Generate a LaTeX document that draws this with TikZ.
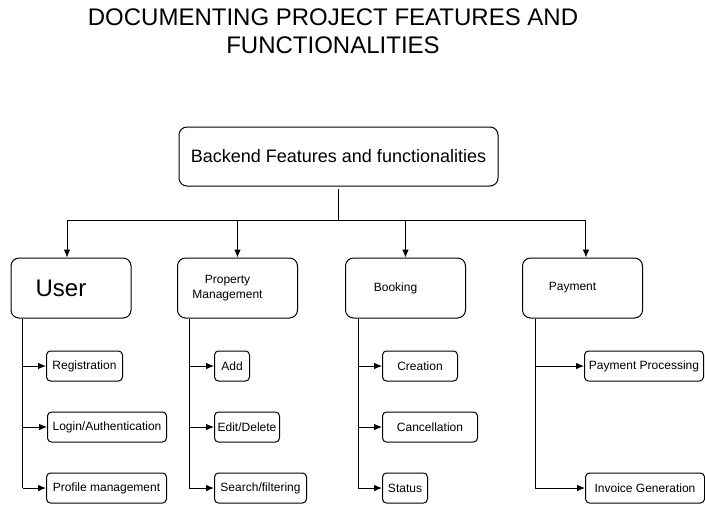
\documentclass[tikz,border=0pt]{standalone}
\usepackage{fontspec}
\setmainfont{Liberation Sans}
\usetikzlibrary{positioning,arrows.meta,calc}
\tikzset{
  flowarrow/.style={-{Latex[length=6pt,width=5pt]}, line width=0.75pt},
  flowline/.style={line width=0.75pt},
  headbox/.style={draw, rounded corners=6pt, line width=0.75pt, minimum width=239.25pt, minimum height=44.25pt, inner sep=0pt, font=\fontsize{13.5}{15}\selectfont},
  groupbox/.style={draw, rounded corners=6pt, line width=0.75pt, minimum width=90pt, minimum height=45pt, inner sep=0pt, align=center, font=\fontsize{9}{12}\selectfont},
  itembox/.style={draw, rounded corners=3pt, line width=0.75pt, minimum height=22.5pt, inner sep=0pt, anchor=west, font=\fontsize{9}{11}\selectfont},
  titletext/.style={align=center, font=\fontsize{18}{21}\selectfont}
}

\begin{document}
\begin{tikzpicture}[x=0.75pt, y=-0.75pt]
  \useasboundingbox (0,0) rectangle (705,504);
  \node[titletext] (title) at (333,31) {DOCUMENTING PROJECT FEATURES AND\\FUNCTIONALITIES};
  \node[headbox] (top) at (338.5,156.5) {Backend Features and functionalities};
  \node[groupbox, font=\fontsize{18}{20}\selectfont] (user) at (71,288) {\hspace*{-15pt}User};
  \node[groupbox] (prop) at (237.5,288) {\hspace*{-15pt}\shortstack{Property\\Management}};
  \node[groupbox] (book) at (405.5,288) {\hspace*{-15pt}Booking};
  \node[groupbox] (pay) at (582.5,288) {\hspace*{-15pt}Payment};
  \node[itembox, minimum width=57pt] (reg) at (46,366) {Registration};
  \node[itembox, minimum width=89.25pt] (login) at (47,427) {Login/Authentication};
  \node[itembox, minimum width=90pt] (profile) at (46,488) {Profile management};
  \node[itembox, minimum width=26.25pt] (add) at (214,366) {Add};
  \node[itembox, minimum width=48.75pt] (edit) at (214,427) {Edit/Delete};
  \node[itembox, minimum width=69pt] (search) at (214,488) {Search/filtering};
  \node[itembox, minimum width=56.25pt] (create) at (382,366) {Creation};
  \node[itembox, minimum width=71.25pt] (cancel) at (382,427) {Cancellation};
  \node[itembox, minimum width=33.75pt] (status) at (382,488) {Status};
  \node[itembox, minimum width=89.25pt] (payproc) at (584,366) {Payment Processing};
  \node[itembox, minimum width=89.25pt] (invoice) at (585,488) {Invoice Generation};
  \coordinate (bar) at (0,220);
  \coordinate (userin) at ([xshift=-3pt]user.north);
  \coordinate (payin) at ([xshift=2.6pt]pay.north);
  \draw[flowline] ([yshift=-1.5pt]top.south) -- (top.south |- bar);
  \draw[flowline] (userin |- bar) -- (payin |- bar);
  \draw[flowarrow] (userin |- bar) -- (userin);
  \draw[flowarrow] (prop.north |- bar) -- (prop.north);
  \draw[flowarrow] (book.north |- bar) -- (book.north);
  \draw[flowarrow] (payin |- bar) -- (payin);
  % user column
  \draw[flowline] ([xshift=9pt]user.south west) -- ([xshift=9pt]user.south west |- profile.west);
  \draw[flowarrow] ([xshift=9pt]user.south west |- reg.west) -- (reg.west);
  \draw[flowarrow] ([xshift=9pt]user.south west |- login.west) -- (login.west);
  \draw[flowarrow] ([xshift=9pt]user.south west |- profile.west) -- (profile.west);
  % property column
  \draw[flowline] ([xshift=9pt]prop.south west) -- ([xshift=9pt]prop.south west |- search.west);
  \draw[flowarrow] ([xshift=9pt]prop.south west |- add.west) -- (add.west);
  \draw[flowarrow] ([xshift=9pt]prop.south west |- edit.west) -- (edit.west);
  \draw[flowarrow] ([xshift=9pt]prop.south west |- search.west) -- (search.west);
  % booking column
  \draw[flowline] ([xshift=9.75pt]book.south west) -- ([xshift=9.75pt]book.south west |- status.west);
  \draw[flowarrow] ([xshift=9.75pt]book.south west |- create.west) -- (create.west);
  \draw[flowarrow] ([xshift=9.75pt]book.south west |- cancel.west) -- (cancel.west);
  \draw[flowarrow] ([xshift=9.75pt]book.south west |- status.west) -- (status.west);
  % payment column
  \draw[flowline] ([xshift=9.75pt]pay.south west) -- ([xshift=9.75pt]pay.south west |- invoice.west);
  \draw[flowarrow] ([xshift=9.75pt]pay.south west |- payproc.west) -- (payproc.west);
  \draw[flowarrow] ([xshift=9.75pt]pay.south west |- invoice.west) -- (invoice.west);
\end{tikzpicture}
\end{document}
